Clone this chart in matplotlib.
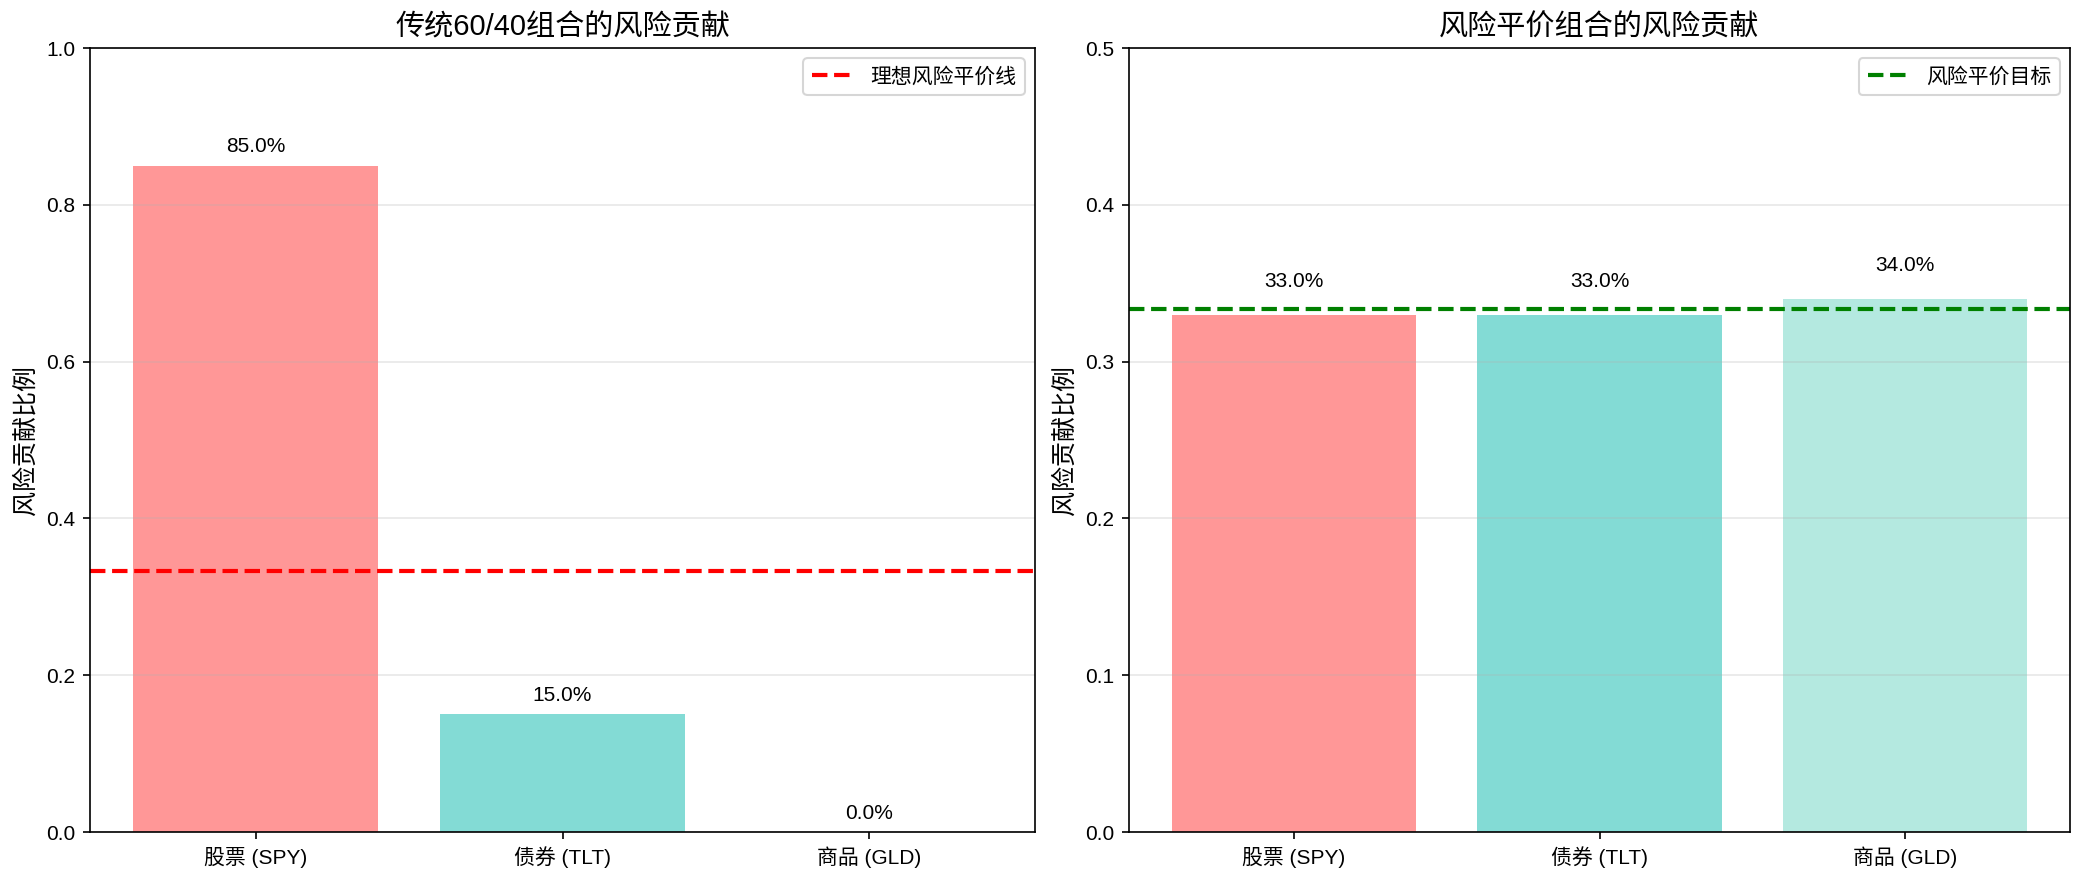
import numpy as np
import matplotlib
matplotlib.use("Agg")
import matplotlib.pyplot as plt

plt.rcParams['font.family'] = ['Liberation Sans', 'Noto Sans CJK SC', 'DejaVu Sans']
plt.rcParams['axes.unicode_minus'] = False

# data
assets = ['股票 (SPY)', '债券 (TLT)', '商品 (GLD)']
traditional_rc = [0.85, 0.15, 0.0]
parity_rc = [0.33, 0.33, 0.34]
target = 1 / 3

colors = ['#FF6B6B', '#4ECDC4', '#95E1D3']

fig = plt.figure(figsize=(13.9, 5.887), dpi=150)
ax1 = fig.add_axes([0.0432, 0.0578, 0.4532, 0.8878])
ax2 = fig.add_axes([0.5415, 0.0578, 0.4513, 0.8878])

# 1. traditional 60/40
bars = ax1.bar(assets, traditional_rc, color=colors, alpha=0.7)
ax1.axhline(y=target, color='red', linestyle='--', linewidth=2, label='理想风险平价线')
ax1.set_title('传统60/40组合的风险贡献', fontsize=14)
ax1.set_ylabel('风险贡献比例', fontsize=12)
ax1.set_ylim(0, 1.0)
ax1.legend(loc='upper right', fontsize=10)
ax1.grid(axis='y', alpha=0.3)
for bar, v in zip(bars, traditional_rc):
    ax1.text(bar.get_x() + bar.get_width() / 2, v + 0.012, f'{v:.1%}',
             ha='center', va='bottom', fontsize=10)

# 2. risk parity
bars = ax2.bar(assets, parity_rc, color=colors, alpha=0.7)
ax2.axhline(y=target, color='green', linestyle='--', linewidth=2, label='风险平价目标')
ax2.set_title('风险平价组合的风险贡献', fontsize=14)
ax2.set_ylabel('风险贡献比例', fontsize=12)
ax2.set_ylim(0, 0.5)
ax2.legend(loc='upper right', fontsize=10)
ax2.grid(axis='y', alpha=0.3)
for bar, v in zip(bars, parity_rc):
    ax2.text(bar.get_x() + bar.get_width() / 2, v + 0.015, f'{v:.1%}',
             ha='center', va='bottom', fontsize=10)

for ax in (ax1, ax2):
    ax.tick_params(labelsize=10)

fig.savefig('out.png', dpi=150)
